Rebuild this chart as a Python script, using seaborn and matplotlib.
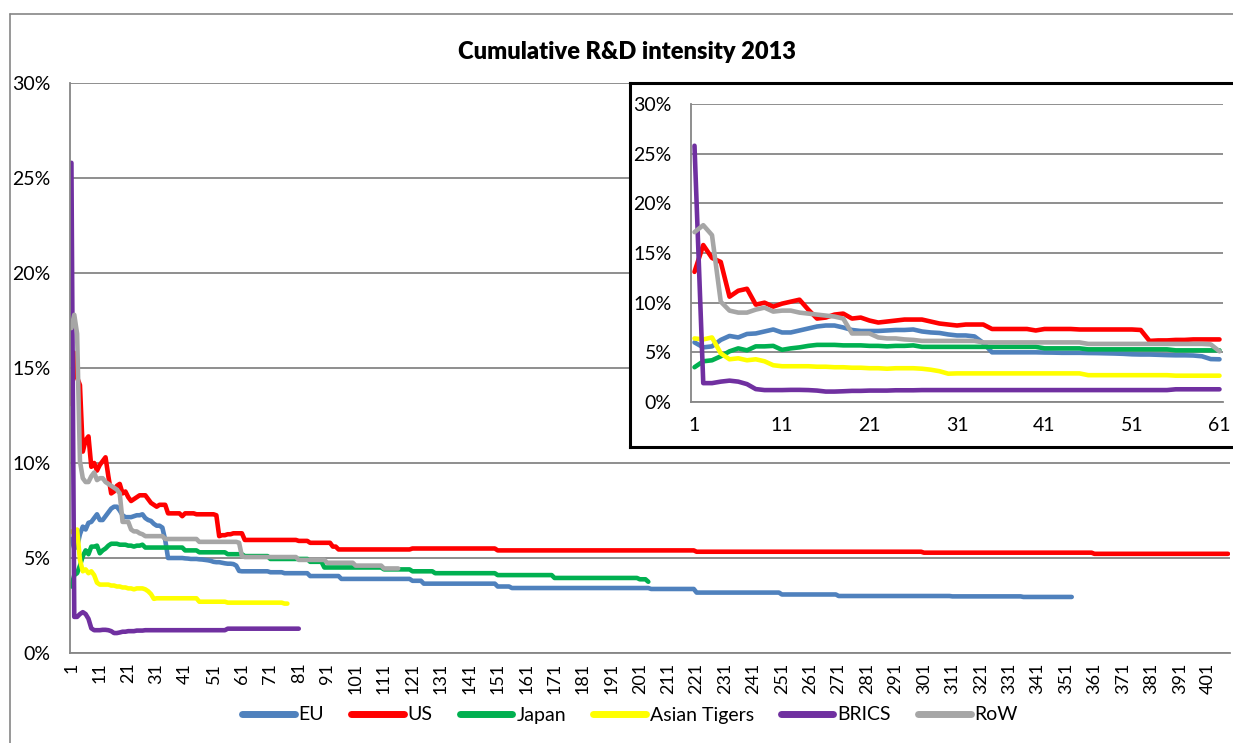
import matplotlib
matplotlib.use("Agg")
import matplotlib.pyplot as plt
from matplotlib.lines import Line2D
import numpy as np
import pandas as pd
import seaborn as sns

# ---------------- data (values in %) ----------------
series_names = ["EU", "US", "Japan", "Asian Tigers", "BRICS", "RoW"]
series_colors = ["#4F81BD", "#FF0000", "#00B050", "#FFFF00", "#7030A0", "#A6A6A6"]

eu = ([6.0, 5.5, 5.6, 6.25, 6.65, 6.5, 6.85, 6.9, 7.1, 7.3, 7.0, 7.0, 7.2, 7.4, 7.6, 7.7,
       7.7, 7.5, 7.25, 7.15, 7.15, 7.15, 7.2, 7.25, 7.25, 7.3,
       7.1, 7.0, 6.95, 6.8, 6.7, 6.7, 6.6, 5.95,
       5.0, 5.0, 5.0, 5.0, 5.0, 5.0, 4.98, 4.97, 4.95, 4.95, 4.95, 4.93,
       4.92, 4.9, 4.88, 4.85, 4.8, 4.78, 4.78, 4.75, 4.72, 4.7, 4.7, 4.68, 4.6, 4.32, 4.3]
      + [4.3] * 9 + [4.25] * 5 + [4.2] * 9 + [4.05] * 11 + [3.9] * 25 + [3.8] * 4
      + [3.65] * 26 + [3.5] * 5 + [3.42] * 49 + [3.37] * 16 + [3.18] * 30 + [3.08] * 20
      + [3.0] * 40 + [2.98] * 25 + [2.95] * 18)

us = ([13.1, 15.8, 14.5, 14.1, 10.6, 11.2, 11.4, 9.8, 10.0, 9.6, 9.9, 10.1, 10.3, 9.3, 8.4,
       8.5, 8.8, 8.9, 8.4, 8.5, 8.2, 8.0, 8.1, 8.2, 8.3, 8.3,
       8.3, 8.1, 7.9, 7.8, 7.7, 7.8, 7.8, 7.8,
       7.35, 7.35, 7.35, 7.35, 7.35, 7.2, 7.35, 7.35, 7.35, 7.35, 7.3, 7.3, 7.3, 7.3, 7.3,
       7.3, 7.3, 7.25,
       6.15, 6.2, 6.2, 6.25, 6.25, 6.3, 6.3, 6.3, 6.3]
      + [5.95] * 19 + [5.9] * 4 + [5.8] * 8 + [5.6] * 2 + [5.45] * 26 + [5.5] * 30
      + [5.4] * 70 + [5.33] * 80 + [5.28] * 60 + [5.22] * 48)

japan = ([3.5, 4.1, 4.2, 4.6, 5.1, 5.4, 5.2, 5.6, 5.6, 5.65, 5.25, 5.4, 5.5, 5.65, 5.75,
          5.75, 5.75, 5.7, 5.7, 5.7, 5.65, 5.65, 5.6, 5.65, 5.65, 5.7]
         + [5.55] * 14 + [5.4] * 5 + [5.3] * 10 + [5.2] * 6 + [5.1] * 9 + [4.95] * 14
         + [4.8] * 5 + [4.5] * 21 + [4.4] * 10 + [4.3] * 8 + [4.2] * 22 + [4.1] * 20
         + [3.95] * 30 + [3.88] * 3 + [3.75])

asian_tigers = ([6.4, 6.3, 6.5, 4.9, 4.3, 4.4, 4.2, 4.3, 4.1, 3.7, 3.6, 3.6, 3.6, 3.6, 3.55,
                 3.55, 3.5, 3.5, 3.45, 3.45, 3.4, 3.4, 3.35, 3.4, 3.4, 3.4,
                 3.35, 3.25, 3.1, 2.85]
                + [2.88] * 15 + [2.7] * 10 + [2.65] * 6 + [2.65] * 14 + [2.6] * 2)

brics = ([25.8, 1.9, 1.9, 2.05, 2.15, 2.05, 1.8, 1.3, 1.2, 1.2, 1.2, 1.22, 1.22, 1.2, 1.15,
          1.05, 1.05, 1.08, 1.12, 1.12, 1.15, 1.15, 1.15, 1.18, 1.18, 1.18]
         + [1.2] * 29 + [1.28] * 26)

row = ([17.1, 17.8, 16.8, 10.1, 9.2, 9.0, 9.0, 9.3, 9.5, 9.1, 9.2, 9.2, 9.0, 8.9, 8.8, 8.7,
        8.6, 8.4, 6.9, 6.9, 6.9, 6.5, 6.4, 6.4, 6.3, 6.25]
       + [6.15] * 7 + [6.0] * 12 + [5.85] * 14 + [5.8] + [5.1]
       + [5.05] * 19 + [4.9] * 10 + [4.75] * 10 + [4.6] * 10 + [4.45] * 6)

series_values = [eu, us, japan, asian_tigers, brics, row]

y_ticks = [0, 5, 10, 15, 20, 25, 30]
main_x_ticks = list(range(1, 402, 10))
inset_x_ticks = list(range(1, 62, 10))
title_text = "Cumulative R&D intensity 2013"

# long-form table
rows = []
for name, vals in zip(series_names, series_values):
    for i, v in enumerate(vals, start=1):
        rows.append((name, i, v))
df = pd.DataFrame(rows, columns=["series", "rank", "value"])
palette = dict(zip(series_names, series_colors))

# ---------------- style ----------------
sns.set_theme(style="white")
plt.rcParams['font.family'] = ['Lato', 'DejaVu Sans']

W, H = 1233, 743
fig = plt.figure(figsize=(W / 100, H / 100), dpi=100)
fig.patch.set_facecolor("white")

def fx(px):
    return px / W

def fy(py):
    return 1 - py / H

grid_col = "#868686"
text_col = "#000000"

# outer chart-area border (only left and top visible)
fig.add_artist(Line2D([fx(10), fx(10)], [0, fy(14)], color=grid_col, lw=1.2))
fig.add_artist(Line2D([fx(10), 1], [fy(14), fy(14)], color=grid_col, lw=1.2))

# title
fig.text(fx(627), fy(52), title_text, ha="center", va="center",
         fontsize=17, fontweight="heavy", color=text_col)

line_kw = dict(lw=3.3, solid_joinstyle="round", solid_capstyle="round")

# ---------------- main axes ----------------
ax = fig.add_axes([fx(70), fy(653), fx(1230) - fx(70), fy(83) - fy(653)])
sns.lineplot(data=df, x="rank", y="value", hue="series", hue_order=series_names,
             palette=palette, estimator=None, sort=False, legend=False, ax=ax, **line_kw)
ax.set_xlim(0.5, 408.7)
ax.set_ylim(0, 30)
ax.set_yticks(y_ticks)
ax.set_yticklabels([f"{t}%" for t in y_ticks])
ax.set_xticks(main_x_ticks)
ax.set_xticklabels([str(t) for t in main_x_ticks], rotation=90)
ax.set_xlabel("")
ax.set_ylabel("")
ax.grid(axis="y", color=grid_col, lw=1.3)
ax.grid(axis="x", visible=False)
ax.set_axisbelow(True)
for s in ["top", "right"]:
    ax.spines[s].set_visible(False)
for s in ["left", "bottom"]:
    ax.spines[s].set_color(grid_col)
    ax.spines[s].set_linewidth(1.3)
ax.tick_params(axis="y", length=0, pad=14, labelsize=14, labelcolor=text_col)
ax.tick_params(axis="x", length=0, pad=7, labelsize=13, labelcolor=text_col)

# ---------------- legend ----------------
handles = [Line2D([0], [0], color=c, lw=5, solid_capstyle="round") for c in series_colors]
fig.legend(handles, series_names, loc="center", bbox_to_anchor=(fx(630), fy(715)),
           ncol=6, frameon=False, fontsize=14, handlelength=2.7, handletextpad=0.2,
           columnspacing=1.4, labelcolor=text_col)

# ---------------- inset ----------------
box = fig.add_axes([fx(630), fy(447), fx(1260) - fx(630), fy(83) - fy(447)])
box.set_facecolor("white")
box.set_xticks([])
box.set_yticks([])
for s in box.spines.values():
    s.set_color("black")
    s.set_linewidth(2.2)

iax = fig.add_axes([fx(691), fy(402), fx(1223) - fx(691), fy(104) - fy(402)])
df_in = df[df["rank"] <= 61]
sns.lineplot(data=df_in, x="rank", y="value", hue="series", hue_order=series_names,
             palette=palette, estimator=None, sort=False, legend=False, ax=iax, **line_kw)
iax.set_facecolor("white")
iax.set_xlim(0.6, 61.4)
iax.set_ylim(0, 30)
iax.set_yticks(y_ticks)
iax.set_yticklabels([f"{t}%" for t in y_ticks])
iax.set_xticks(inset_x_ticks)
iax.set_xticklabels([str(t) for t in inset_x_ticks])
iax.set_xlabel("")
iax.set_ylabel("")
iax.grid(axis="y", color=grid_col, lw=1.3)
iax.grid(axis="x", visible=False)
iax.set_axisbelow(True)
for s in ["top", "right"]:
    iax.spines[s].set_visible(False)
for s in ["left", "bottom"]:
    iax.spines[s].set_color(grid_col)
    iax.spines[s].set_linewidth(1.3)
iax.tick_params(axis="y", length=0, pad=14, labelsize=14, labelcolor=text_col)
iax.tick_params(axis="x", length=0, pad=11, labelsize=14, labelcolor=text_col)

fig.savefig("out.png", dpi=100, facecolor="white")
